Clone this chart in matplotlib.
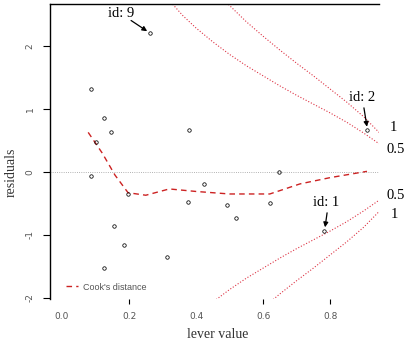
import matplotlib
matplotlib.use("Agg")
import matplotlib.pyplot as plt

# observations (lever value, residual)
lever = [0.263, 0.087, 0.125, 0.146, 0.101, 0.379, 0.087, 0.197, 0.424, 0.376,
         0.155, 0.185, 0.125, 0.313, 0.648, 0.493, 0.519, 0.621, 0.782, 0.910]
resid = [2.21, 1.32, 0.86, 0.63, 0.48, 0.67, -0.06, -0.35, -0.19, -0.48,
         -0.86, -1.16, -1.52, -1.35, 0.00, -0.52, -0.73, -0.49, -0.94, 0.67]

# smoother through the points
smooth_h = [0.078, 0.12, 0.158, 0.197, 0.25, 0.32, 0.40, 0.50, 0.62, 0.71, 0.80, 0.91]
smooth_r = [0.63, 0.30, -0.05, -0.33, -0.37, -0.27, -0.31, -0.35, -0.35, -0.19, -0.09, 0.01]

# Cook's distance contours
c05_up_h = [0.33, 0.36, 0.40, 0.45, 0.50, 0.55, 0.60, 0.65, 0.70, 0.75, 0.80, 0.85, 0.90, 0.946]
c05_up_r = [2.67, 2.49, 2.29, 2.07, 1.87, 1.69, 1.53, 1.37, 1.22, 1.08, 0.94, 0.79, 0.62, 0.45]
c05_lo_h = [0.46, 0.50, 0.55, 0.60, 0.65, 0.70, 0.75, 0.80, 0.85, 0.90, 0.946]
c05_lo_r = [-2.03, -1.87, -1.69, -1.53, -1.37, -1.22, -1.08, -0.94, -0.79, -0.62, -0.45]
c1_up_h = [0.49, 0.55, 0.60, 0.65, 0.70, 0.75, 0.80, 0.85, 0.90, 0.946]
c1_up_r = [2.70, 2.39, 2.16, 1.94, 1.73, 1.53, 1.32, 1.11, 0.88, 0.63]
c1_lo_h = [0.63, 0.65, 0.70, 0.75, 0.80, 0.85, 0.90, 0.946]
c1_lo_r = [-2.03, -1.94, -1.73, -1.53, -1.32, -1.11, -0.88, -0.63]

xticks = [0.0, 0.2, 0.4, 0.6, 0.8]
yticks = [-2, -1, 0, 1, 2]

fig = plt.figure(figsize=(4.17, 3.46), dpi=100)
ax = fig.add_axes([0.1199, 0.136, 0.789, 0.852])

serif = "Liberation Serif"
grey = "#555555"
red = "#cc2222"
pink = "#dd3344"

ax.axhline(0, color="#999999", lw=0.6, ls=":")

for h, r in [(c05_up_h, c05_up_r), (c05_lo_h, c05_lo_r),
             (c1_up_h, c1_up_r), (c1_lo_h, c1_lo_r)]:
    ax.plot(h, r, color=pink, lw=0.8, ls=":")

ax.plot(smooth_h, smooth_r, color=red, lw=1.0, ls=(0, (4, 3)), label="Cook's distance")

ax.plot(lever, resid, "o", ms=2.5, mfc="none", mec="black", mew=0.55)

# id labels with arrows
ax.text(0.176, 2.52, "id: 9", family=serif, fontsize=10.5, ha="center", va="center")
ax.annotate("", xy=(0.254, 2.24), xytext=(0.206, 2.41),
            arrowprops=dict(arrowstyle="-|>", color="black", lw=0.9, mutation_scale=7,
                            shrinkA=0, shrinkB=0))
ax.text(0.896, 1.19, "id: 2", family=serif, fontsize=10.5, ha="center", va="center")
ax.annotate("", xy=(0.910, 0.72), xytext=(0.901, 1.02),
            arrowprops=dict(arrowstyle="-|>", color="black", lw=0.9, mutation_scale=7,
                            shrinkA=0, shrinkB=0))
ax.text(0.788, -0.48, "id: 1", family=serif, fontsize=10.5, ha="center", va="center")
ax.annotate("", xy=(0.785, -0.88), xytext=(0.791, -0.65),
            arrowprops=dict(arrowstyle="-|>", color="black", lw=0.9, mutation_scale=7,
                            shrinkA=0, shrinkB=0))

# contour level labels
for lx, ly, s in [(0.988, 0.70, "1"), (0.997, 0.35, "0.5"),
                  (0.997, -0.37, "0.5"), (0.991, -0.68, "1")]:
    ax.text(lx, ly, s, family=serif, fontsize=10.5, ha="center", va="center", clip_on=False)

ax.set_xlim(-0.036, 0.946)
ax.set_ylim(-2.02, 2.67)

ax.set_xticks(xticks)
ax.set_xticklabels(["%.1f" % t for t in xticks])
ax.set_yticks(yticks)
ax.set_yticklabels([str(t) for t in yticks], rotation=90, va="center")
ax.tick_params(axis="x", length=3.5, width=0.8, pad=6, labelsize=6.5, labelcolor=grey)
ax.tick_params(axis="y", length=5, width=0.8, pad=6, labelsize=6.5, labelcolor=grey)
for i in (0, 2):
    ax.xaxis.get_major_ticks()[i].tick1line.set_visible(False)

ax.spines["right"].set_visible(False)
ax.spines["bottom"].set_visible(False)
ax.spines["left"].set_linewidth(1.0)
ax.spines["top"].set_linewidth(1.0)

ax.set_xlabel("lever value", family=serif, fontsize=10, color="#333333")
ax.set_ylabel("residuals", family=serif, fontsize=10, color="#333333")
ax.xaxis.set_label_coords(0.51, -0.1)
ax.yaxis.set_label_coords(-0.097, 0.43)

leg = ax.legend(loc="lower left", bbox_to_anchor=(0.05, 0.025), frameon=False,
                borderpad=0, borderaxespad=0, handlelength=1.3, handletextpad=0.5,
                prop={"family": "Liberation Sans", "size": 6.5})
for t in leg.get_texts():
    t.set_color(grey)

fig.savefig("out.png", dpi=100)
